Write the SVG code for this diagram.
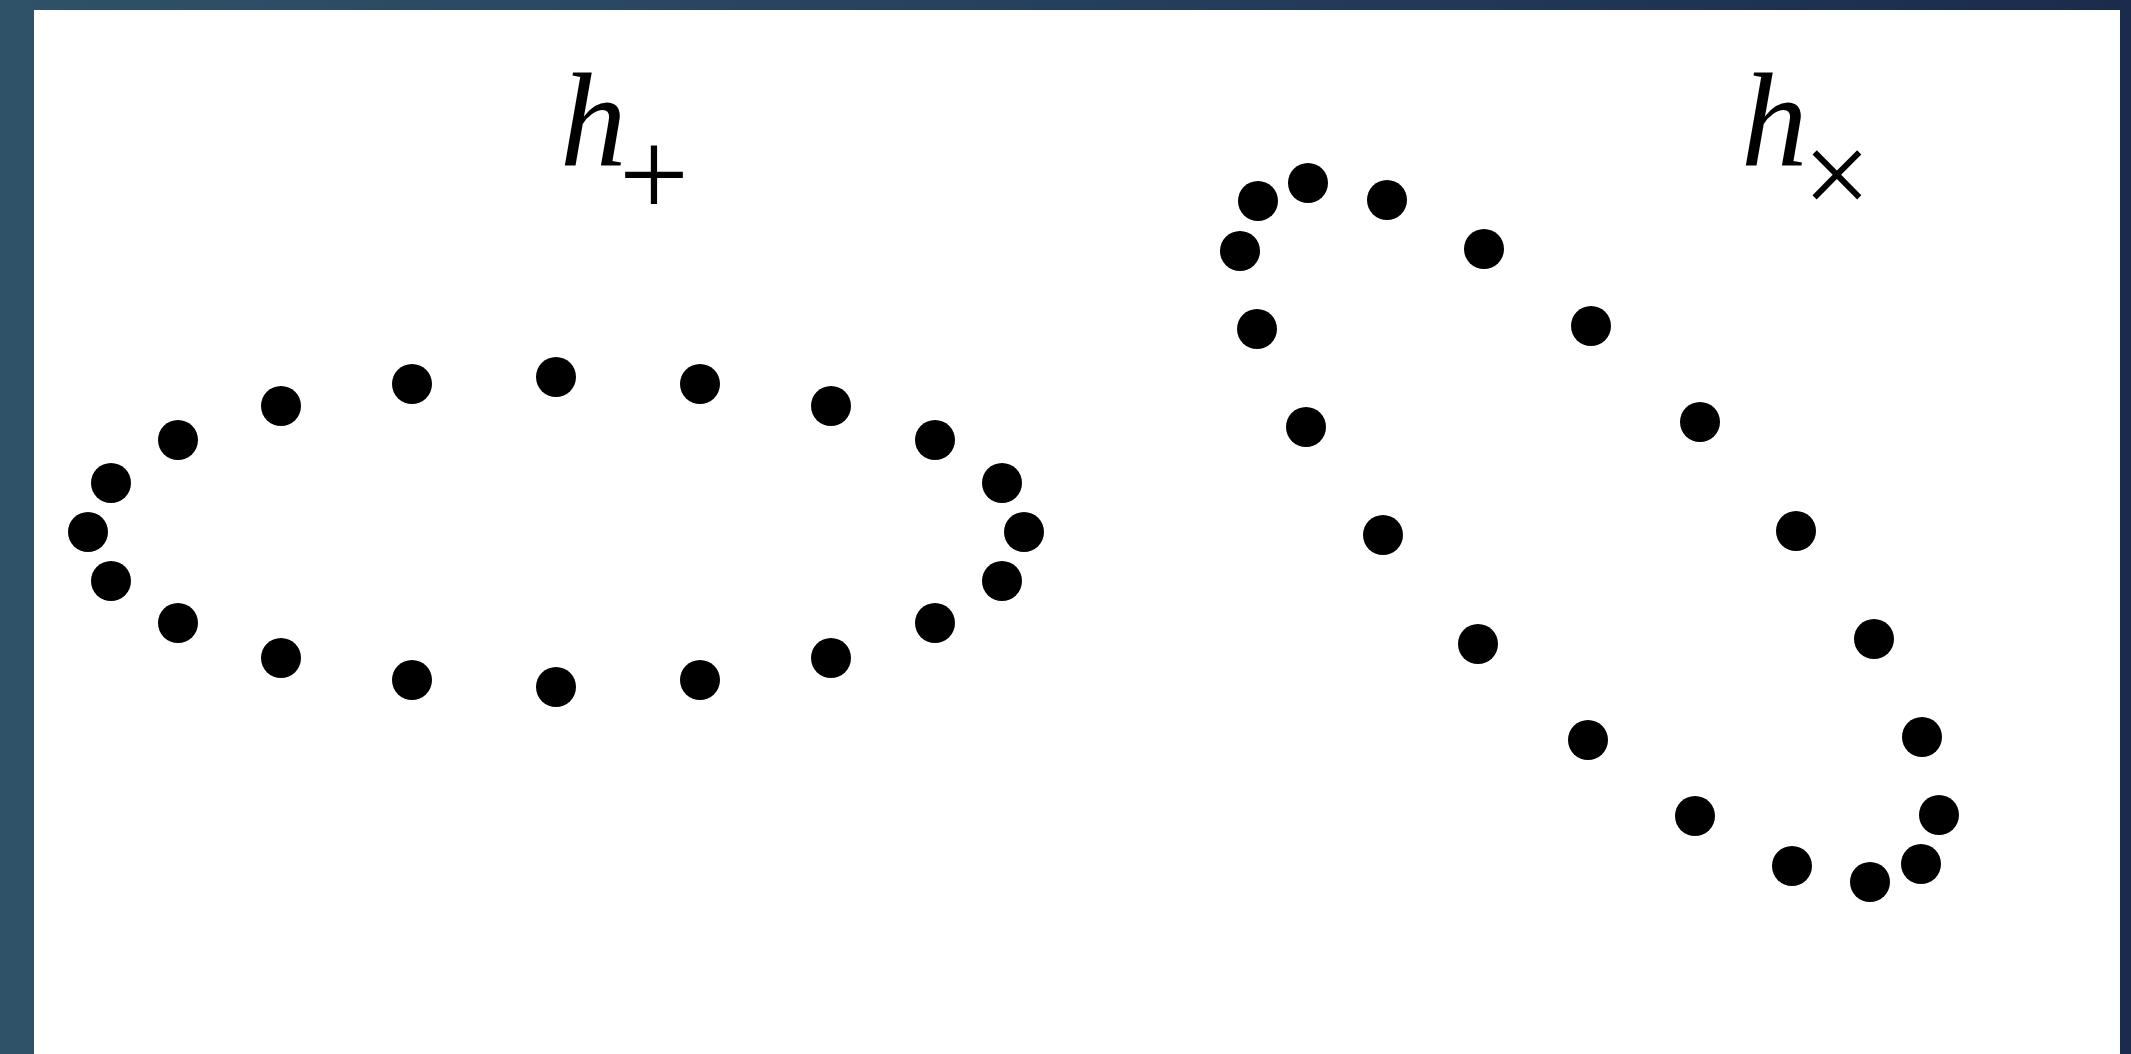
<svg xmlns="http://www.w3.org/2000/svg" width="2131" height="1054" viewBox="0 0 2131 1054">
<defs>
<linearGradient id="bg" x1="0" y1="0" x2="1" y2="0">
<stop offset="0" stop-color="#2f5268"/>
<stop offset="0.5" stop-color="#25405c"/>
<stop offset="1" stop-color="#1b2b4d"/>
</linearGradient>
<style>
.dot{fill:#000}
.lbl{font-family:"Liberation Serif","Times New Roman",serif;fill:#000}
.it{font-style:italic}
</style>
</defs>
<rect x="0" y="0" width="2131" height="1054" fill="url(#bg)"/>
<rect x="34" y="10" width="2086" height="1044" fill="#ffffff"/>
<g id="label-plus">
<text class="lbl it" x="560" y="165" font-size="133">h</text>
<text class="lbl" x="619" y="216" font-size="124">+</text>
</g>
<g id="label-cross">
<text class="lbl it" x="1741" y="165" font-size="133">h</text>
<text class="lbl" x="1803" y="215" font-size="120">×</text>
</g>
<g id="ring-plus">
<circle class="dot" cx="178" cy="440" r="20"/>
<circle class="dot" cx="281" cy="406" r="20"/>
<circle class="dot" cx="412" cy="384" r="20"/>
<circle class="dot" cx="556" cy="377" r="20"/>
<circle class="dot" cx="700" cy="384" r="20"/>
<circle class="dot" cx="831" cy="406" r="20"/>
<circle class="dot" cx="935" cy="440" r="20"/>
<circle class="dot" cx="111" cy="483" r="20"/>
<circle class="dot" cx="88" cy="532" r="20"/>
<circle class="dot" cx="111" cy="581" r="20"/>
<circle class="dot" cx="1002" cy="483" r="20"/>
<circle class="dot" cx="1024" cy="532" r="20"/>
<circle class="dot" cx="1002" cy="581" r="20"/>
<circle class="dot" cx="178" cy="623" r="20"/>
<circle class="dot" cx="281" cy="658" r="20"/>
<circle class="dot" cx="412" cy="680" r="20"/>
<circle class="dot" cx="556" cy="687" r="20"/>
<circle class="dot" cx="700" cy="680" r="20"/>
<circle class="dot" cx="831" cy="658" r="20"/>
<circle class="dot" cx="935" cy="623" r="20"/>
</g>
<g id="ring-cross">
<circle class="dot" cx="1258" cy="201" r="20"/>
<circle class="dot" cx="1308" cy="183" r="20"/>
<circle class="dot" cx="1387" cy="200" r="20"/>
<circle class="dot" cx="1240" cy="251" r="20"/>
<circle class="dot" cx="1484" cy="249" r="20"/>
<circle class="dot" cx="1257" cy="329" r="20"/>
<circle class="dot" cx="1591" cy="326" r="20"/>
<circle class="dot" cx="1306" cy="427" r="20"/>
<circle class="dot" cx="1700" cy="422" r="20"/>
<circle class="dot" cx="1383" cy="535" r="20"/>
<circle class="dot" cx="1796" cy="531" r="20"/>
<circle class="dot" cx="1478" cy="644" r="20"/>
<circle class="dot" cx="1874" cy="639" r="20"/>
<circle class="dot" cx="1588" cy="740" r="20"/>
<circle class="dot" cx="1922" cy="737" r="20"/>
<circle class="dot" cx="1695" cy="816" r="20"/>
<circle class="dot" cx="1939" cy="815" r="20"/>
<circle class="dot" cx="1792" cy="866" r="20"/>
<circle class="dot" cx="1921" cy="864" r="20"/>
<circle class="dot" cx="1870" cy="882" r="20"/>
</g>
</svg>
